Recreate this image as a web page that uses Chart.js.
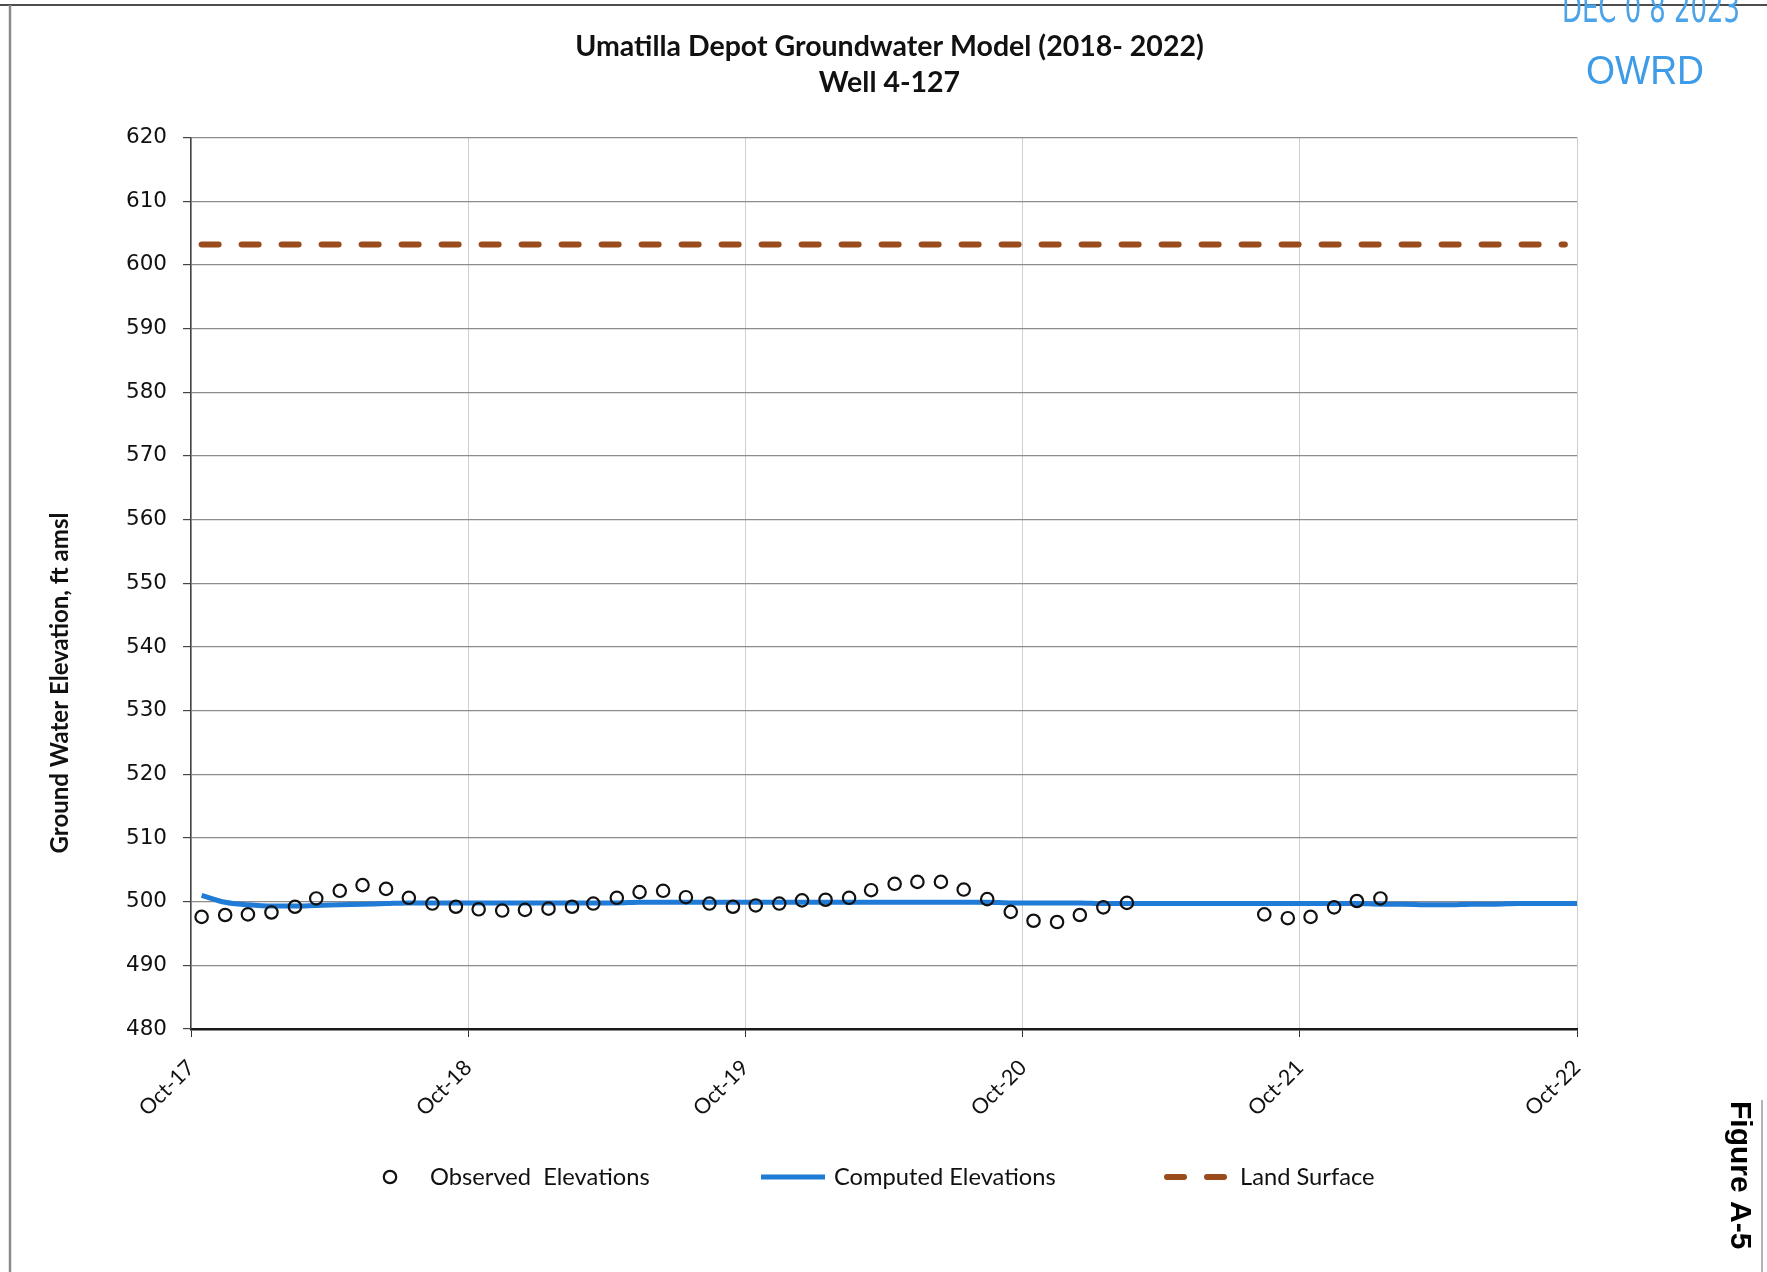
<!DOCTYPE html>
<html>
<head>
<meta charset="utf-8">
<title>Umatilla Depot Groundwater Model (2018- 2022) – Well 4-127</title>
<script src="https://cdn.jsdelivr.net/npm/chart.js@4.4.1/dist/chart.umd.min.js"></script>
<style>
  html, body { margin: 0; padding: 0; background: #ffffff; }
  #wrap { position: relative; width: 1767px; height: 1272px; }
  canvas { display: block; }
</style>
</head>
<body>
<div id="wrap"><canvas id="chart" width="1767" height="1272"></canvas></div>
<script>
// ---- Well 4-127 record -------------------------------------------------
// Monthly observed groundwater elevations (ft amsl)
const observedDates = [
  '2017-10-15','2017-11-15','2017-12-15',
  '2018-01-15','2018-02-15','2018-03-15','2018-04-15','2018-05-15','2018-06-15',
  '2018-07-15','2018-08-15','2018-09-15','2018-10-15','2018-11-15','2018-12-15',
  '2019-01-15','2019-02-15','2019-03-15','2019-04-15','2019-05-15','2019-06-15',
  '2019-07-15','2019-08-15','2019-09-15','2019-10-15','2019-11-15','2019-12-15',
  '2020-01-15','2020-02-15','2020-03-15','2020-04-15','2020-05-15','2020-06-15',
  '2020-07-15','2020-08-15','2020-09-15','2020-10-15','2020-11-15','2020-12-15',
  '2021-01-15','2021-02-15',
  '2021-08-15','2021-09-15','2021-10-15','2021-11-15','2021-12-15',
  '2022-01-15'
];
const observedValues = [
  497.6, 497.9, 498.0,
  498.3, 499.2, 500.5, 501.7, 502.6, 502.0,
  500.6, 499.7, 499.2, 498.8, 498.6, 498.7,
  498.9, 499.2, 499.7, 500.6, 501.5, 501.7,
  500.7, 499.7, 499.2, 499.4, 499.7, 500.2,
  500.3, 500.6, 501.8, 502.8, 503.1, 503.1,
  501.9, 500.4, 498.4, 497.0, 496.8, 497.9,
  499.1, 499.8,
  498.0, 497.4, 497.6, 499.1, 500.1,
  500.5
];

// Model-computed elevations (ft amsl)
const computedDates = [
  '2017-10-15','2017-11-15','2017-12-15',
  '2018-01-15','2018-02-15','2018-03-15','2018-04-15','2018-05-15','2018-06-15',
  '2018-07-15','2018-08-15','2018-09-15','2018-10-15','2018-11-15','2018-12-15',
  '2019-01-15','2019-02-15','2019-03-15','2019-04-15','2019-05-15','2019-06-15',
  '2019-07-15','2019-08-15','2019-09-15','2019-10-15','2019-11-15','2019-12-15',
  '2020-01-15','2020-02-15','2020-03-15','2020-04-15','2020-05-15','2020-06-15',
  '2020-07-15','2020-08-15','2020-09-15','2020-10-15','2020-11-15','2020-12-15',
  '2021-01-15','2021-02-15','2021-03-15','2021-04-15','2021-05-15','2021-06-15',
  '2021-07-15','2021-08-15','2021-09-15','2021-10-15','2021-11-15','2021-12-15',
  '2022-01-15','2022-02-15','2022-03-15','2022-04-15','2022-05-15','2022-06-15',
  '2022-07-15','2022-08-15','2022-09-15','2022-10-01'
];
const computedValues = [
  501.0, 499.9, 499.5,
  499.3, 499.3, 499.4, 499.5, 499.6, 499.7,
  499.8, 499.8, 499.8, 499.8, 499.8, 499.8,
  499.8, 499.8, 499.8, 499.8, 499.9, 499.9,
  499.9, 499.9, 499.9, 499.9, 499.9, 499.9,
  499.9, 499.9, 499.9, 499.9, 499.9, 499.9,
  499.9, 499.9, 499.8, 499.8, 499.8, 499.8,
  499.7, 499.7, 499.7, 499.7, 499.7, 499.7,
  499.7, 499.7, 499.7, 499.7, 499.7, 499.7,
  499.6, 499.6, 499.5, 499.5, 499.6, 499.6,
  499.7, 499.7, 499.7, 499.7
];

// Land surface elevation at the well (ft amsl)
const landSurfaceDates = ['2017-10-15', '2022-09-15'];
const landSurfaceValues = [603.2, 603.2];

// Axis ticks
const xTickDates = ['2017-10-01','2018-10-01','2019-10-01','2020-10-01','2021-10-01','2022-10-01'];
const xTickLabels = ['Oct-17','Oct-18','Oct-19','Oct-20','Oct-21','Oct-22'];
const yTickValues = [480, 490, 500, 510, 520, 530, 540, 550, 560, 570, 580, 590, 600, 610, 620];

// Series names
const seriesNames = ['Observed  Elevations', 'Computed Elevations', 'Land Surface'];

// ---- helpers --------------------------------------------------------------
const toTime = s => Date.UTC(+s.slice(0, 4), +s.slice(5, 7) - 1, +s.slice(8, 10));
const pairs = (dates, values) => dates.map((d, i) => ({ x: toTime(d), y: values[i] }));

const TEXT = '#111111';
const BLUE = '#1f7bd6';
const BROWN = '#9a4b1c';

// Page furniture: frame lines, axis title, legend row, stamp and figure tag
const pageDecor = {
  id: 'pageDecor',
  beforeDraw(chart) {
    const ctx = chart.ctx;
    ctx.save();
    ctx.fillStyle = '#ffffff';
    ctx.fillRect(0, 0, chart.width, chart.height);
    // scanned page frame
    ctx.strokeStyle = '#4d4d4d';
    ctx.lineWidth = 2;
    ctx.beginPath(); ctx.moveTo(0, 5); ctx.lineTo(chart.width, 5); ctx.stroke();
    ctx.strokeStyle = '#8a8a8a';
    ctx.lineWidth = 2.5;
    ctx.beginPath(); ctx.moveTo(10, 5); ctx.lineTo(10, chart.height); ctx.stroke();
    ctx.strokeStyle = '#9a9a9a';
    ctx.lineWidth = 1.5;
    ctx.beginPath(); ctx.moveTo(1762, 1100); ctx.lineTo(1762, chart.height); ctx.stroke();
    ctx.restore();
  },
  afterDraw(chart, args, opts) {
    const ctx = chart.ctx;
    ctx.save();

    // y-axis title
    ctx.translate(opts.yTitle.x, opts.yTitle.y);
    ctx.rotate(-Math.PI / 2);
    ctx.font = 'bold 24px Lato, "Open Sans", sans-serif';
    ctx.fillStyle = TEXT;
    ctx.textAlign = 'center';
    ctx.textBaseline = 'middle';
    ctx.fillText(opts.yTitle.text, 0, 0);
    ctx.setTransform(1, 0, 0, 1, 0, 0);

    // legend row built from the dataset styles
    const ds = chart.data.datasets;
    const ly = opts.legend.y;
    ctx.font = '23.7px Lato, "Open Sans", sans-serif';
    ctx.textAlign = 'left';
    ctx.textBaseline = 'middle';
    opts.legend.items.forEach((it, i) => {
      const d = ds[i];
      ctx.save();
      if (i === 0) {
        ctx.strokeStyle = d.pointBorderColor;
        ctx.lineWidth = d.pointBorderWidth;
        ctx.beginPath();
        ctx.arc(it.symbolX, ly, d.pointRadius, 0, Math.PI * 2);
        ctx.stroke();
      } else {
        ctx.strokeStyle = d.borderColor;
        ctx.lineWidth = d.borderWidth;
        ctx.lineCap = d.borderCapStyle || 'butt';
        ctx.setLineDash(d.borderDash || []);
        ctx.beginPath();
        ctx.moveTo(it.symbolX - it.symbolW / 2, ly);
        ctx.lineTo(it.symbolX + it.symbolW / 2, ly);
        ctx.stroke();
      }
      ctx.restore();
      ctx.fillStyle = TEXT;
      ctx.fillText(d.label, it.textX, ly);
    });

    // received stamp
    ctx.fillStyle = '#4ba3ea';
    ctx.textAlign = 'center';
    ctx.textBaseline = 'alphabetic';
    ctx.font = '40px "Liberation Sans Narrow", "DejaVu Sans Condensed", "Liberation Sans", sans-serif';
    ctx.fillText('DEC 0 8 2023', 1651, 22, 178);
    ctx.fillStyle = '#3d9be8';
    ctx.font = '41px "Liberation Sans", Arial, sans-serif';
    ctx.fillText('OWRD', 1645, 84, 118);

    // figure tag along the right margin
    ctx.translate(1731, 1101);
    ctx.rotate(Math.PI / 2);
    ctx.fillStyle = '#000000';
    ctx.textAlign = 'left';
    ctx.font = 'bold 30px "Liberation Sans", Arial, sans-serif';
    ctx.fillText('Figure A-5', 0, 0);
    ctx.restore();
  }
};

new Chart(document.getElementById('chart'), {
  type: 'line',
  data: {
    datasets: [
      {
        label: seriesNames[0],
        data: pairs(observedDates, observedValues),
        showLine: false,
        pointStyle: 'circle',
        pointRadius: 6.2,
        pointBorderWidth: 2.2,
        pointBorderColor: '#111111',
        pointBackgroundColor: 'rgba(0,0,0,0)',
        order: 0
      },
      {
        label: seriesNames[1],
        data: pairs(computedDates, computedValues),
        borderColor: BLUE,
        borderWidth: 5,
        pointRadius: 0,
        cubicInterpolationMode: 'monotone',
        order: 1
      },
      {
        label: seriesNames[2],
        data: pairs(landSurfaceDates, landSurfaceValues),
        borderColor: BROWN,
        borderWidth: 6,
        borderDash: [17, 23],
        borderCapStyle: 'round',
        pointRadius: 0,
        order: 2
      }
    ]
  },
  options: {
    responsive: false,
    animation: false,
    devicePixelRatio: 1,
    layout: { padding: { left: 12, top: 0, right: 0, bottom: 0 } },
    plugins: {
      legend: { display: false },
      tooltip: { enabled: false },
      title: {
        display: true,
        text: ['Umatilla Depot Groundwater Model (2018- 2022)', 'Well 4-127'],
        color: TEXT,
        font: { family: 'Lato, "Open Sans", sans-serif', weight: 'bold', size: 28.5, lineHeight: 1.263 },
        padding: { top: 28.5, bottom: 37 }
      },
      pageDecor: {
        yTitle: { text: 'Ground Water Elevation, ft amsl', x: 60, y: 683 },
        legend: {
          y: 1177,
          items: [
            { symbolX: 390, symbolW: 13, textX: 430 },
            { symbolX: 793, symbolW: 64, textX: 834 },
            { symbolX: 1196, symbolW: 58, textX: 1240 }
          ]
        }
      }
    },
    scales: {
      x: {
        type: 'linear',
        min: toTime(xTickDates[0]),
        max: toTime(xTickDates[xTickDates.length - 1]),
        afterBuildTicks: s => { s.ticks = xTickDates.map(d => ({ value: toTime(d) })); },
        afterFit: s => { s.height = 1272 - 1029; },
        ticks: {
          autoSkip: false,
          minRotation: 45,
          maxRotation: 45,
          padding: 18,
          color: TEXT,
          font: { family: 'Lato, "Open Sans", sans-serif', size: 21.5 },
          callback: (v, i) => xTickLabels[i]
        },
        grid: { color: '#cfcfcf', lineWidth: 1, tickColor: '#333333', tickLength: 8 },
        border: { color: '#1a1a1a', width: 2.5 }
      },
      y: {
        type: 'linear',
        position: 'left',
        min: yTickValues[0],
        max: yTickValues[yTickValues.length - 1],
        afterBuildTicks: s => { s.ticks = yTickValues.map(v => ({ value: v })); },
        afterFit: s => { s.width = 191 - 12; },
        ticks: {
          padding: 16,
          color: TEXT,
          font: { family: '"DejaVu Sans", Verdana, sans-serif', size: 21.5 },
          callback: v => String(v)
        },
        grid: { color: '#8c8c8c', lineWidth: 1.2, tickColor: '#444444', tickLength: 8 },
        border: { color: '#444444', width: 1.5 }
      },
      margin: {
        type: 'linear',
        position: 'right',
        display: true,
        afterFit: s => { s.width = 1767 - 1577; },
        ticks: { display: false },
        grid: { display: false },
        border: { display: false }
      }
    }
  },
  plugins: [pageDecor]
});
</script>
</body>
</html>
